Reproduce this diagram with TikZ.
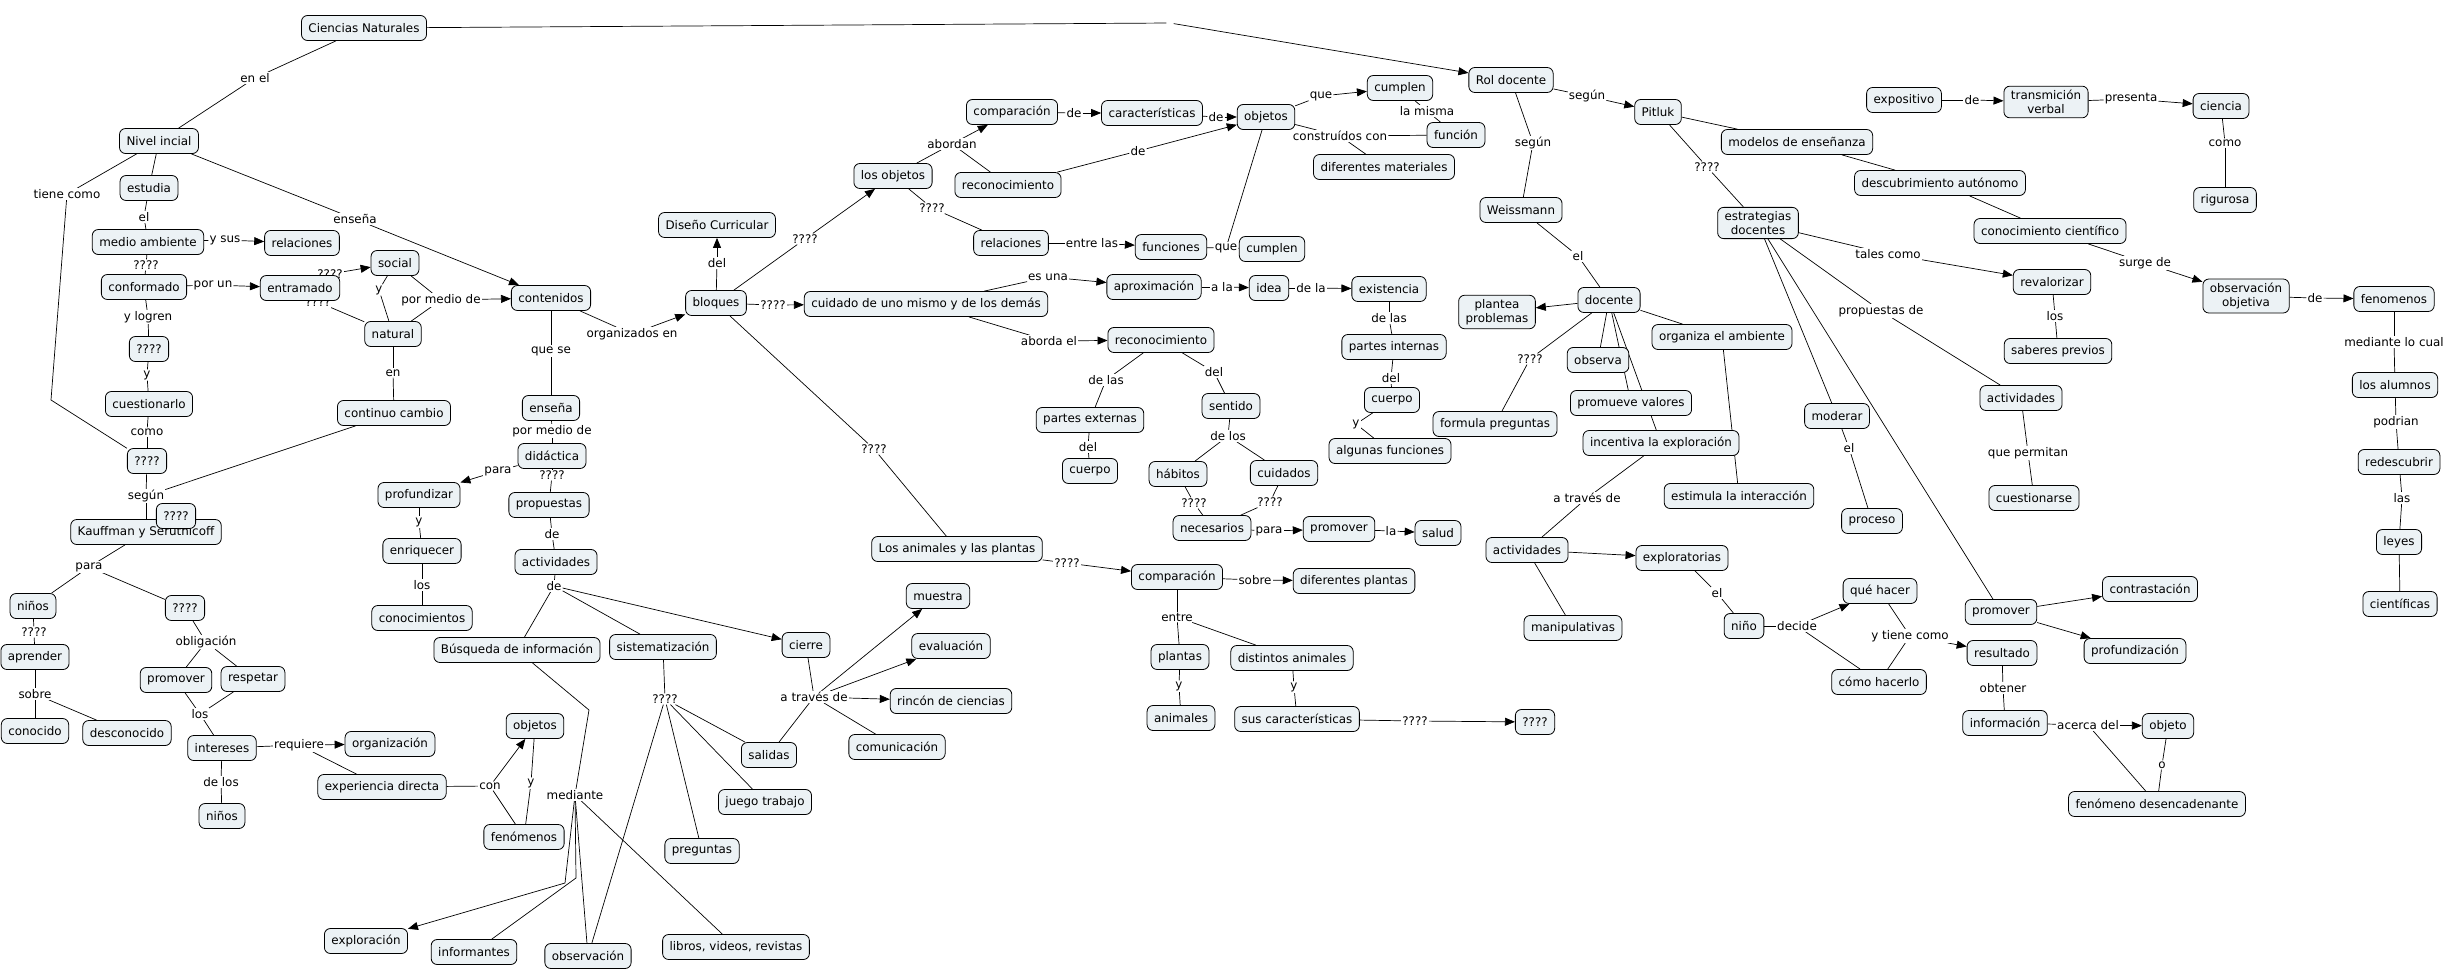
\documentclass[tikz,border=0pt]{standalone}
\usepackage{fontspec}
\setmainfont{DejaVu Sans}
\usetikzlibrary{arrows.meta}
\pgfdeclarelayer{back}
\pgfdeclarelayer{edges}
\pgfsetlayers{back,edges,main}
\definecolor{cfill}{RGB}{236,242,245}
\begin{document}
\begin{tikzpicture}[x=1pt,y=-1pt,
 every node/.style={font=\fontsize{11.9}{14}\selectfont},
 cpt/.style={draw=black, line width=0.8pt, fill=cfill, rounded corners=6pt, inner xsep=7pt, inner ysep=4pt, minimum height=25pt, align=center},
 lbl/.style={fill=white, inner sep=1pt},
 ln/.style={line width=0.7pt},
 arr/.style={line width=0.7pt, -{Triangle[length=10pt,width=8pt]}}]
\begin{pgfonlayer}{back}
\fill[white] (0,0) rectangle (2448,972);
\end{pgfonlayer}
\useasboundingbox (0,0) rectangle (2448,972);

% ---------- labels ----------
\node[lbl] (lEnel) at (255,78) {en el};
\node[lbl] (lTiene) at (67,194) {tiene como};
\node[lbl] (lEl1) at (144,217) {el};
\node[lbl] (lYsus) at (225,240) {y sus};
\node[lbl] (lQma) at (146,265) {????};
\node[lbl] (lPorun) at (213,285) {por un};
\node[lbl] (lQentA) at (330,274) {????};
\node[lbl] (lQentB) at (318,302) {????};
\node[lbl] (lYsn) at (379,290) {y};
\node[lbl] (lPmd) at (441,300) {por medio de};
\node[lbl] (lEnsena) at (355,219) {enseña};
\node[lbl] (lEn) at (393,373) {en};
\node[lbl] (lYlogren) at (148,317) {y logren};
\node[lbl] (lYa) at (147,375) {y};
\node[lbl] (lComoA) at (147,432) {como};
\node[lbl] (lSegunA) at (146,496) {según};
\node[lbl] (lParaA) at (89,567) {para};
\node[lbl] (lQnin) at (34,632) {????};
\node[lbl] (lOblig) at (206,642) {obligación};
\node[lbl] (lSobreA) at (35,694) {sobre};
\node[lbl] (lLosA) at (200,714) {los};
\node[lbl] (lDelosA) at (221,782) {de los};
\node[lbl] (lRequiere) at (299,745) {requiere};
\node[lbl] (lCon) at (490,786) {con};
\node[lbl] (lYb) at (531,783) {y};
\node[lbl] (lMediante) at (575,795) {mediante};
\node[lbl] (lQueSe) at (551,351) {que se};
\node[lbl] (lPmdB) at (552,431) {por medio de};
\node[lbl] (lParaB) at (498,471) {para};
\node[lbl] (lQdid) at (552,475) {????};
\node[lbl] (lYc) at (419,522) {y};
\node[lbl] (lLosB) at (422,585) {los};
\node[lbl] (lDeProp) at (552,534) {de};
\node[lbl] (lDeAct) at (554,586) {de};
\node[lbl] (lQsis) at (665,699) {????};
\node[lbl] (lAtravesA) at (814,697) {a través de};
\node[lbl] (lOrganiz) at (632,334) {organizados en};
\node[lbl] (lDelDc) at (717,263) {del};
\node[lbl] (lQbo) at (805,239) {????};
\node[lbl] (lQbc) at (773,305) {????};
\node[lbl] (lQba) at (874,449) {????};
\node[lbl] (lAbordan) at (952,144) {abordan};
\node[lbl] (lDeA) at (1074,113) {de};
\node[lbl] (lDeB) at (1138,151) {de};
\node[lbl] (lDeC) at (1216,117) {de};
\node[lbl] (lQlo) at (932,208) {????};
\node[lbl] (lEntreA) at (1092,243) {entre las};
\node[lbl] (lQueA) at (1226,248) {que};
\node[lbl] (lEsuna) at (1048,277) {es una};
\node[lbl] (lAla) at (1222,287) {a la};
\node[lbl] (lDela) at (1311,288) {de la};
\node[lbl] (lQueB) at (1321,96) {que};
\node[lbl] (lLamisma) at (1427,111) {la misma};
\node[lbl] (lConstr) at (1340,136) {construídos con};
\node[lbl] (lAbordael) at (1049,341) {aborda el};
\node[lbl] (lDelasA) at (1106,380) {de las};
\node[lbl] (lDelA) at (1088,447) {del};
\node[lbl] (lDelB) at (1214,372) {del};
\node[lbl] (lDelosB) at (1228,436) {de los};
\node[lbl] (lQhab) at (1194,503) {????};
\node[lbl] (lQcui) at (1270,502) {????};
\node[lbl] (lParaC) at (1269,531) {para};
\node[lbl] (lLa) at (1391,531) {la};
\node[lbl] (lDelasB) at (1389,318) {de las};
\node[lbl] (lDelC) at (1391,378) {del};
\node[lbl] (lYd) at (1356,424) {y};
\node[lbl] (lQap) at (1067,563) {????};
\node[lbl] (lSobreB) at (1255,580) {sobre};
\node[lbl] (lEntreB) at (1177,617) {entre};
\node[lbl] (lYe) at (1179,686) {y};
\node[lbl] (lYf) at (1294,687) {y};
\node[lbl] (lQsc) at (1415,721) {????};
\node[circle, inner sep=0pt, minimum size=7pt] (lBlank) at (1170,23) {};
\node[lbl] (lSegunB) at (1587,96) {según};
\node[lbl] (lSegunC) at (1533,143) {según};
\node[lbl] (lQpit) at (1707,167) {????};
\node[lbl] (lElB) at (1578,256) {el};
\node[lbl] (lQdoc) at (1530,359) {????};
\node[lbl] (lAtravesB) at (1587,498) {a través de};
\node[lbl] (lElC) at (1717,593) {el};
\node[lbl] (lDecide) at (1797,626) {decide};
\node[lbl] (lYtiene) at (1910,636) {y tiene como};
\node[lbl] (lObtener) at (2003,688) {obtener};
\node[lbl] (lAcerca) at (2088,725) {acerca del};
\node[lbl] (lO) at (2162,765) {o};
\node[lbl] (lElD) at (1849,448) {el};
\node[lbl] (lQuepermitan) at (2028,453) {que permitan};
\node[lbl] (lLosC) at (2055,316) {los};
\node[lbl] (lTales) at (1888,254) {tales como};
\node[lbl] (lPropde) at (1881,311) {propuestas de};
\node[lbl] (lDeD) at (1972,100) {de};
\node[lbl] (lPresenta) at (2131,99) {presenta};
\node[lbl] (lComoB) at (2225,143) {como};
\node[lbl] (lSurge) at (2145,263) {surge de};
\node[lbl] (lDeE) at (2315,298) {de};
\node[lbl] (lMedianteB) at (2394,342) {mediante lo cual};
\node[lbl] (lPodrian) at (2396,422) {podrian};
\node[lbl] (lLas) at (2402,498) {las};

% ---------- concepts ----------
\node[cpt] (cien) at (364,28) {Ciencias Naturales};
\node[cpt] (nivel) at (159,141) {Nivel incial};
\node[cpt] (estudia) at (149,188) {estudia};
\node[cpt] (medio) at (148,242) {medio ambiente};
\node[cpt] (relA) at (302,243) {relaciones};
\node[cpt] (conform) at (144,287) {conformado};
\node[cpt] (entram) at (300,288) {entramado};
\node[cpt] (social) at (395,263) {social};
\node[cpt] (natural) at (393,334) {natural};
\node[cpt] (contin) at (394,413) {continuo cambio};
\node[cpt] (conten) at (551,298) {contenidos};
\node[cpt] (qA) at (149,349) {????};
\node[cpt] (cuestion) at (149,404) {cuestionarlo};
\node[cpt] (qB) at (147,461) {????};
\node[cpt] (kauff) at (146,532) {Kauffman y Serutnicoff};
\node[cpt] (qC) at (176,516) {????};
\node[cpt] (ninosA) at (33,606) {niños};
\node[cpt] (qD) at (185,608) {????};
\node[cpt] (aprender) at (35,657) {aprender};
\node[cpt] (conocido) at (35,731) {conocido};
\node[cpt] (descon) at (127,733) {desconocido};
\node[cpt] (promA) at (176,680) {promover};
\node[cpt] (respetar) at (253,679) {respetar};
\node[cpt] (intereses) at (222,748) {intereses};
\node[cpt] (ninosB) at (222,816) {niños};
\node[cpt] (organiz) at (390,744) {organización};
\node[cpt] (experiencia) at (382,787) {experiencia directa};
\node[cpt] (objB) at (535,726) {objetos};
\node[cpt] (fenB) at (524,837) {fenómenos};
\node[cpt] (explor) at (366,941) {exploración};
\node[cpt] (inform) at (474,952) {informantes};
\node[cpt] (observ) at (588,956) {observación};
\node[cpt] (busq) at (517,650) {Búsqueda de información};
\node[cpt] (sistem) at (663,647) {sistematización};
\node[cpt] (cierre) at (806,645) {cierre};
\node[cpt] (muestra) at (938,596) {muestra};
\node[cpt] (evalua) at (951,646) {evaluación};
\node[cpt] (rincon) at (951,701) {rincón de ciencias};
\node[cpt] (comunic) at (897,747) {comunicación};
\node[cpt] (salidas) at (769,755) {salidas};
\node[cpt] (juego) at (765,802) {juego trabajo};
\node[cpt] (pregun) at (702,851) {preguntas};
\node[cpt] (libros) at (736,947) {libros, videos, revistas};
\node[cpt] (ensB) at (551,408) {enseña};
\node[cpt] (didac) at (552,456) {didáctica};
\node[cpt] (profund) at (419,495) {profundizar};
\node[cpt] (enriq) at (422,551) {enriquecer};
\node[cpt] (conocim) at (422,618) {conocimientos};
\node[cpt] (propu) at (549,505) {propuestas};
\node[cpt] (actA) at (556,562) {actividades};
\node[cpt] (diseno) at (717,225) {Diseño Curricular};
\node[cpt] (bloques) at (716,303) {bloques};
\node[cpt] (losobj) at (893,176) {los objetos};
\node[cpt] (compA) at (1012,112) {comparación};
\node[cpt] (caract) at (1152,113) {características};
\node[cpt] (reconA) at (1008,185) {reconocimiento};
\node[cpt] (relB) at (1011,243) {relaciones};
\node[cpt] (funciones) at (1171,247) {funciones};
\node[cpt] (cumpB) at (1272,249) {cumplen};
\node[cpt] (cuidado) at (926,304) {cuidado de uno mismo y de los demás};
\node[cpt] (aprox) at (1154,287) {aproximación};
\node[cpt] (idea) at (1269,288) {idea};
\node[cpt] (existencia) at (1389,289) {existencia};
\node[cpt] (objA) at (1266,117) {objetos};
\node[cpt] (cumpA) at (1400,88) {cumplen};
\node[cpt] (funcion) at (1456,135) {función};
\node[cpt] (difmat) at (1384,167) {diferentes materiales};
\node[cpt] (reconB) at (1161,340) {reconocimiento};
\node[cpt] (partesext) at (1090,420) {partes externas};
\node[cpt] (cuerpoA) at (1090,471) {cuerpo};
\node[cpt] (sentido) at (1231,406) {sentido};
\node[cpt] (habitos) at (1178,474) {hábitos};
\node[cpt] (cuidados) at (1284,473) {cuidados};
\node[cpt] (necesarios) at (1212,528) {necesarios};
\node[cpt] (promC) at (1339,529) {promover};
\node[cpt] (salud) at (1438,533) {salud};
\node[cpt] (partesint) at (1394,347) {partes internas};
\node[cpt] (cuerpoB) at (1392,400) {cuerpo};
\node[cpt] (algfun) at (1390,451) {algunas funciones};
\node[cpt] (animplant) at (957,549) {Los animales y las plantas};
\node[cpt] (compB) at (1177,577) {comparación};
\node[cpt] (difplant) at (1354,581) {diferentes plantas};
\node[cpt] (plantas) at (1180,657) {plantas};
\node[cpt] (animales) at (1181,718) {animales};
\node[cpt] (distanim) at (1292,658) {distintos animales};
\node[cpt] (suscar) at (1297,719) {sus características};
\node[cpt] (qE) at (1535,722) {????};
\node[cpt] (rol) at (1511,80) {Rol docente};
\node[cpt] (pitluk) at (1658,112) {Pitluk};
\node[cpt] (weiss) at (1521,210) {Weissmann};
\node[cpt] (modelos) at (1797,142) {modelos de enseñanza};
\node[cpt] (estrat) at (1758,223) {estrategias\\docentes};
\node[cpt] (docente) at (1609,300) {docente};
\node[cpt] (plantea) at (1497,312) {plantea\\problemas};
\node[cpt] (organiza) at (1722,337) {organiza el ambiente};
\node[cpt] (observa) at (1598,360) {observa};
\node[cpt] (formula) at (1495,424) {formula preguntas};
\node[cpt] (promueve) at (1631,403) {promueve valores};
\node[cpt] (incentiva) at (1661,443) {incentiva la exploración};
\node[cpt] (estimula) at (1739,496) {estimula la interacción};
\node[cpt] (actB) at (1527,550) {actividades};
\node[cpt] (explorat) at (1682,558) {exploratorias};
\node[cpt] (manip) at (1573,628) {manipulativas};
\node[cpt] (nino) at (1744,626) {niño};
\node[cpt] (quehacer) at (1880,591) {qué hacer};
\node[cpt] (comohacer) at (1879,682) {cómo hacerlo};
\node[cpt] (resultado) at (2002,653) {resultado};
\node[cpt] (informacion) at (2005,723) {información};
\node[cpt] (objeto) at (2168,726) {objeto};
\node[cpt] (fenomdes) at (2157,804) {fenómeno desencadenante};
\node[cpt] (promB) at (2001,612) {promover};
\node[cpt] (contrast) at (2150,589) {contrastación};
\node[cpt] (profundiz) at (2135,651) {profundización};
\node[cpt] (moderar) at (1837,416) {moderar};
\node[cpt] (proceso) at (1872,521) {proceso};
\node[cpt] (actC) at (2021,398) {actividades};
\node[cpt] (cuestionarse) at (2034,498) {cuestionarse};
\node[cpt] (revalor) at (2052,282) {revalorizar};
\node[cpt] (saberes) at (2058,351) {saberes previos};
\node[cpt] (expositivo) at (1904,100) {expositivo};
\node[cpt] (transm) at (2046,102) {transmición\\verbal};
\node[cpt] (ciencia) at (2221,106) {ciencia};
\node[cpt] (rigurosa) at (2225,200) {rigurosa};
\node[cpt] (descub) at (1940,183) {descubrimiento autónomo};
\node[cpt] (conocci) at (2050,231) {conocimiento científico};
\node[cpt] (obsobj) at (2246,296) {observación\\objetiva};
\node[cpt] (fenomenos) at (2394,299) {fenomenos};
\node[cpt] (alumnos) at (2395,385) {los alumnos};
\node[cpt] (redesc) at (2399,462) {redescubrir};
\node[cpt] (leyes) at (2399,542) {leyes};
\node[cpt] (cientificas) at (2400,604) {científicas};

% ---------- connectors ----------
\begin{pgfonlayer}{edges}
\draw[ln] (cien) -- (lEnel); \draw[ln] (lEnel) -- (nivel);
\draw[ln] (cien) -- (lBlank); \draw[arr] (lBlank) -- (rol);
\draw[ln] (nivel) -- (lTiene); \draw[ln] (lTiene) -- (51,400) -- (qB);
\draw[ln] (nivel) -- (estudia);
\draw[ln] (nivel) -- (lEnsena); \draw[arr] (lEnsena) -- (conten);
\draw[ln] (estudia) -- (lEl1); \draw[ln] (lEl1) -- (medio);
\draw[ln] (medio) -- (lYsus); \draw[arr] (lYsus) -- (relA);
\draw[ln] (medio) -- (lQma); \draw[ln] (lQma) -- (conform);
\draw[ln] (conform) -- (lPorun); \draw[arr] (lPorun) -- (entram);
\draw[arr] (lQentA) -- (social);
\draw[ln] (lQentB) -- (natural);
\draw[ln] (social) -- (lYsn); \draw[ln] (lYsn) -- (natural);
\draw[ln] (social) -- (lPmd); \draw[ln] (natural) -- (lPmd); \draw[arr] (lPmd) -- (conten);
\draw[ln] (natural) -- (lEn); \draw[ln] (lEn) -- (contin);
\draw[ln] (contin) -- (lSegunA);
\draw[ln] (conform) -- (lYlogren); \draw[ln] (lYlogren) -- (qA);
\draw[ln] (qA) -- (lYa); \draw[ln] (lYa) -- (cuestion);
\draw[ln] (cuestion) -- (lComoA); \draw[ln] (lComoA) -- (qB);
\draw[ln] (qB) -- (lSegunA); \draw[ln] (lSegunA) -- (kauff);
\draw[ln] (kauff) -- (lParaA); \draw[ln] (lParaA) -- (ninosA); \draw[ln] (lParaA) -- (qD);
\draw[ln] (ninosA) -- (lQnin); \draw[ln] (lQnin) -- (aprender);
\draw[ln] (aprender) -- (lSobreA); \draw[ln] (lSobreA) -- (conocido); \draw[ln] (lSobreA) -- (descon);
\draw[ln] (qD) -- (lOblig); \draw[ln] (lOblig) -- (promA); \draw[ln] (lOblig) -- (respetar);
\draw[ln] (promA) -- (lLosA); \draw[ln] (respetar) -- (lLosA); \draw[ln] (lLosA) -- (intereses);
\draw[ln] (intereses) -- (lDelosA); \draw[ln] (lDelosA) -- (ninosB);
\draw[ln] (intereses) -- (lRequiere); \draw[arr] (lRequiere) -- (organiz); \draw[ln] (lRequiere) -- (experiencia);
\draw[ln] (experiencia) -- (lCon); \draw[arr] (lCon) -- (objB); \draw[ln] (lCon) -- (fenB);
\draw[ln] (objB) -- (lYb); \draw[ln] (lYb) -- (fenB);
\draw[ln] (busq) -- (589,710) -- (lMediante);
\draw[arr] (lMediante) -- (565,883) -- (explor);
\draw[ln] (lMediante) -- (576,878) -- (inform);
\draw[ln] (lMediante) -- (observ);
\draw[ln] (lMediante) -- (libros);
\draw[ln] (conten) -- (lQueSe); \draw[ln] (lQueSe) -- (ensB);
\draw[ln] (ensB) -- (lPmdB); \draw[ln] (lPmdB) -- (didac);
\draw[ln] (didac) -- (lParaB); \draw[arr] (lParaB) -- (profund);
\draw[ln] (didac) -- (lQdid); \draw[ln] (lQdid) -- (propu);
\draw[ln] (profund) -- (lYc); \draw[ln] (lYc) -- (enriq);
\draw[ln] (enriq) -- (lLosB); \draw[ln] (lLosB) -- (conocim);
\draw[ln] (propu) -- (lDeProp); \draw[ln] (lDeProp) -- (actA);
\draw[ln] (actA) -- (lDeAct); \draw[ln] (lDeAct) -- (busq); \draw[ln] (lDeAct) -- (sistem); \draw[arr] (lDeAct) -- (cierre);
\draw[ln] (sistem) -- (lQsis);
\draw[ln] (lQsis) -- (salidas); \draw[ln] (lQsis) -- (juego); \draw[ln] (lQsis) -- (pregun); \draw[ln] (lQsis) -- (observ);
\draw[ln] (cierre) -- (lAtravesA);
\draw[arr] (lAtravesA) -- (muestra); \draw[arr] (lAtravesA) -- (evalua); \draw[arr] (lAtravesA) -- (rincon);
\draw[ln] (lAtravesA) -- (comunic); \draw[ln] (lAtravesA) -- (salidas);
\draw[ln] (conten) -- (lOrganiz); \draw[arr] (lOrganiz) -- (bloques);
\draw[ln] (bloques) -- (lDelDc); \draw[arr] (lDelDc) -- (diseno);
\draw[ln] (bloques) -- (lQbo); \draw[arr] (lQbo) -- (losobj);
\draw[ln] (bloques) -- (lQbc); \draw[arr] (lQbc) -- (cuidado);
\draw[ln] (bloques) -- (lQba); \draw[ln] (lQba) -- (animplant);
\draw[ln] (losobj) -- (lAbordan); \draw[arr] (lAbordan) -- (compA); \draw[ln] (lAbordan) -- (reconA);
\draw[ln] (compA) -- (lDeA); \draw[arr] (lDeA) -- (caract);
\draw[ln] (caract) -- (lDeC); \draw[arr] (lDeC) -- (objA);
\draw[ln] (reconA) -- (lDeB); \draw[arr] (lDeB) -- (objA);
\draw[ln] (losobj) -- (lQlo); \draw[ln] (lQlo) -- (relB);
\draw[ln] (relB) -- (lEntreA); \draw[arr] (lEntreA) -- (funciones);
\draw[ln] (funciones) -- (lQueA); \draw[ln] (lQueA) -- (cumpB); \draw[ln] (objA) -- (lQueA);
\draw[ln] (objA) -- (lQueB); \draw[arr] (lQueB) -- (cumpA);
\draw[ln] (cumpA) -- (lLamisma); \draw[ln] (lLamisma) -- (funcion);
\draw[ln] (objA) -- (lConstr); \draw[ln] (lConstr) -- (funcion); \draw[ln] (lConstr) -- (difmat);
\draw[ln] (cuidado) -- (lEsuna); \draw[arr] (lEsuna) -- (aprox);
\draw[ln] (aprox) -- (lAla); \draw[arr] (lAla) -- (idea);
\draw[ln] (idea) -- (lDela); \draw[arr] (lDela) -- (existencia);
\draw[ln] (existencia) -- (lDelasB); \draw[ln] (lDelasB) -- (partesint);
\draw[ln] (partesint) -- (lDelC); \draw[ln] (lDelC) -- (cuerpoB);
\draw[ln] (cuerpoB) -- (lYd); \draw[ln] (lYd) -- (algfun);
\draw[ln] (cuidado) -- (lAbordael); \draw[arr] (lAbordael) -- (reconB);
\draw[ln] (reconB) -- (lDelasA); \draw[ln] (lDelasA) -- (partesext);
\draw[ln] (partesext) -- (lDelA); \draw[ln] (lDelA) -- (cuerpoA);
\draw[ln] (reconB) -- (lDelB); \draw[ln] (lDelB) -- (sentido);
\draw[ln] (sentido) -- (lDelosB); \draw[ln] (lDelosB) -- (habitos); \draw[ln] (lDelosB) -- (cuidados);
\draw[ln] (habitos) -- (lQhab); \draw[ln] (lQhab) -- (necesarios);
\draw[ln] (cuidados) -- (lQcui); \draw[ln] (lQcui) -- (necesarios);
\draw[ln] (necesarios) -- (lParaC); \draw[arr] (lParaC) -- (promC);
\draw[ln] (promC) -- (lLa); \draw[arr] (lLa) -- (salud);
\draw[ln] (animplant) -- (lQap); \draw[arr] (lQap) -- (compB);
\draw[ln] (compB) -- (lSobreB); \draw[arr] (lSobreB) -- (difplant);
\draw[ln] (compB) -- (lEntreB); \draw[ln] (lEntreB) -- (plantas); \draw[ln] (lEntreB) -- (distanim);
\draw[ln] (plantas) -- (lYe); \draw[ln] (lYe) -- (animales);
\draw[ln] (distanim) -- (lYf); \draw[ln] (lYf) -- (suscar);
\draw[ln] (suscar) -- (lQsc); \draw[arr] (lQsc) -- (qE);
\draw[ln] (rol) -- (lSegunB); \draw[arr] (lSegunB) -- (pitluk);
\draw[ln] (rol) -- (lSegunC); \draw[ln] (lSegunC) -- (weiss);
\draw[ln] (pitluk) -- (modelos);
\draw[ln] (pitluk) -- (lQpit); \draw[ln] (lQpit) -- (estrat);
\draw[ln] (modelos) -- (descub); \draw[ln] (descub) -- (conocci);
\draw[ln] (conocci) -- (lSurge); \draw[arr] (lSurge) -- (obsobj);
\draw[ln] (obsobj) -- (lDeE); \draw[arr] (lDeE) -- (fenomenos);
\draw[ln] (fenomenos) -- (lMedianteB); \draw[ln] (lMedianteB) -- (alumnos);
\draw[ln] (alumnos) -- (lPodrian); \draw[ln] (lPodrian) -- (redesc);
\draw[ln] (redesc) -- (lLas); \draw[ln] (lLas) -- (leyes);
\draw[ln] (leyes) -- (cientificas);
\draw[ln] (expositivo) -- (lDeD); \draw[arr] (lDeD) -- (transm);
\draw[ln] (transm) -- (lPresenta); \draw[arr] (lPresenta) -- (ciencia);
\draw[ln] (ciencia) -- (lComoB); \draw[ln] (lComoB) -- (rigurosa);
\draw[ln] (estrat) -- (lTales); \draw[arr] (lTales) -- (revalor);
\draw[ln] (revalor) -- (lLosC); \draw[ln] (lLosC) -- (saberes);
\draw[ln] (estrat) -- (lPropde); \draw[ln] (lPropde) -- (actC);
\draw[ln] (actC) -- (lQuepermitan); \draw[ln] (lQuepermitan) -- (cuestionarse);
\draw[ln] (estrat) -- (moderar);
\draw[ln] (moderar) -- (lElD); \draw[ln] (lElD) -- (proceso);
\draw[ln] (estrat) -- (promB);
\draw[arr] (promB) -- (contrast); \draw[arr] (promB) -- (profundiz);
\draw[ln] (weiss) -- (lElB); \draw[ln] (lElB) -- (docente);
\draw[arr] (docente) -- (plantea);
\draw[ln] (docente) -- (lQdoc); \draw[ln] (lQdoc) -- (formula);
\draw[ln] (docente) -- (observa); \draw[ln] (docente) -- (promueve);
\draw[ln] (docente) -- (incentiva); \draw[ln] (docente) -- (organiza);
\draw[ln] (organiza) -- (estimula);
\draw[ln] (incentiva) -- (lAtravesB); \draw[ln] (lAtravesB) -- (actB);
\draw[arr] (actB) -- (explorat); \draw[ln] (actB) -- (manip);
\draw[ln] (explorat) -- (lElC); \draw[ln] (lElC) -- (nino);
\draw[ln] (nino) -- (lDecide); \draw[arr] (lDecide) -- (quehacer); \draw[ln] (lDecide) -- (comohacer);
\draw[ln] (quehacer) -- (lYtiene); \draw[ln] (comohacer) -- (lYtiene); \draw[arr] (lYtiene) -- (resultado);
\draw[ln] (resultado) -- (lObtener); \draw[ln] (lObtener) -- (informacion);
\draw[ln] (informacion) -- (lAcerca); \draw[arr] (lAcerca) -- (objeto); \draw[ln] (lAcerca) -- (fenomdes);
\draw[ln] (objeto) -- (lO); \draw[ln] (lO) -- (fenomdes);
\end{pgfonlayer}
\end{tikzpicture}
\end{document}
